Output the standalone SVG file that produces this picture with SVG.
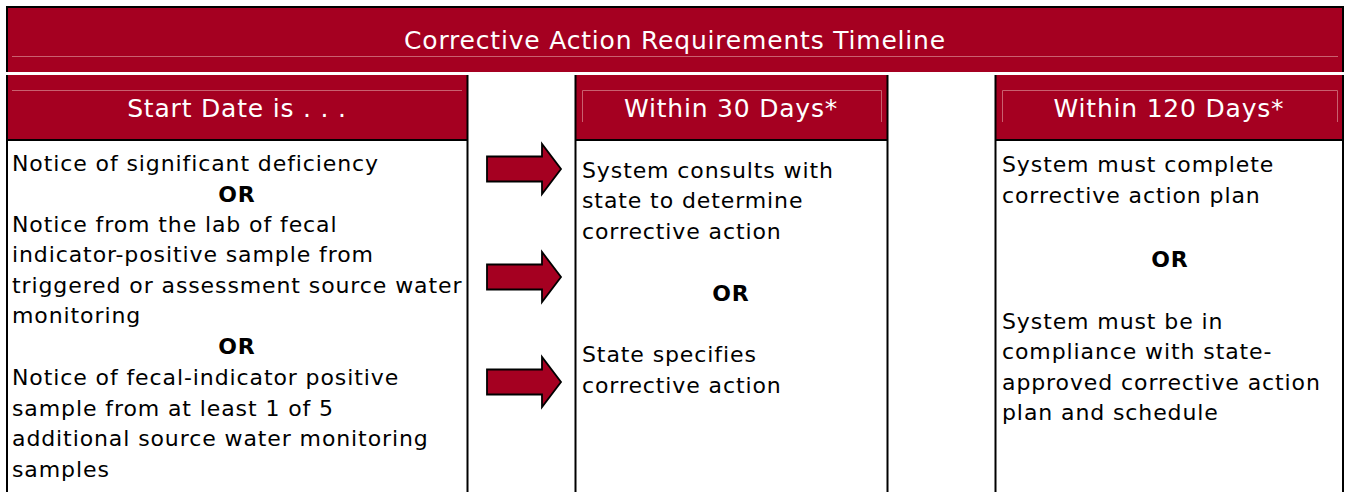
<svg xmlns="http://www.w3.org/2000/svg" xmlns:xlink="http://www.w3.org/1999/xlink" width="1345" height="492" viewBox="0 0 1345 492">
  <style>
    .hdr { fill: #a50021; }
    .bevel { stroke: #c9606f; stroke-width: 1; fill: none; }
    .border { stroke: #000; stroke-width: 2; fill: none; }
    .htxt { font-family: "DejaVu Sans", sans-serif; font-size: 25px; letter-spacing: 0.8px; fill: #ffffff; text-anchor: middle; }
    .btxt { font-family: "DejaVu Sans", sans-serif; font-size: 22px; letter-spacing: 0.9px; fill: #000; }
    .or { font-weight: bold; text-anchor: middle; }
    .arrow { fill: #a50021; stroke: #000; stroke-width: 1.8; stroke-linejoin: miter; }
  </style>
  <defs>
    <path id="arr" d="M0,-12.5 H55 V-25 L74,0 L55,25 V12.5 H0 Z"/>
  </defs>
  <rect width="1345" height="492" fill="#ffffff"/>

  <g id="title">
    <rect class="hdr" x="6" y="6" width="1338" height="66"/>
    <line class="bevel" x1="12" y1="56.5" x2="1338" y2="56.5"/>
    <line class="border" x1="6" y1="7" x2="1344" y2="7"/>
    <text class="htxt" x="675" y="49">Corrective Action Requirements Timeline</text>
  </g>

  <g id="col-start">
    <rect class="hdr" x="6" y="75" width="462" height="65"/>
    <line class="bevel" x1="12" y1="90.5" x2="462" y2="90.5"/>
    <text class="htxt" x="237" y="117">Start Date is . . .</text>
    <line class="border" x1="6" y1="140" x2="468" y2="140"/>
    <text class="btxt" x="12" y="171">Notice of significant deficiency</text>
    <text class="btxt or" x="237" y="202">OR</text>
    <text class="btxt" x="12" y="232">Notice from the lab of fecal</text>
    <text class="btxt" x="12" y="262">indicator-positive sample from</text>
    <text class="btxt" x="12" y="293">triggered or assessment source water</text>
    <text class="btxt" x="12" y="323">monitoring</text>
    <text class="btxt or" x="237" y="354">OR</text>
    <text class="btxt" x="12" y="385">Notice of fecal-indicator positive</text>
    <text class="btxt" x="12" y="416">sample from at least 1 of 5</text>
    <text class="btxt" x="12" y="446">additional source water monitoring</text>
    <text class="btxt" x="12" y="477">samples</text>
  </g>

  <g id="col-30">
    <rect class="hdr" x="576" y="75" width="311" height="65"/>
    <polyline class="bevel" points="582.5,122 582.5,90.5 881.5,90.5 881.5,122"/>
    <text class="htxt" x="731" y="117">Within 30 Days*</text>
    <line class="border" x1="575" y1="140" x2="888" y2="140"/>
    <text class="btxt" x="582" y="178">System consults with</text>
    <text class="btxt" x="582" y="208">state to determine</text>
    <text class="btxt" x="582" y="239">corrective action</text>
    <text class="btxt or" x="731" y="301">OR</text>
    <text class="btxt" x="582" y="362">State specifies</text>
    <text class="btxt" x="582" y="393">corrective action</text>
  </g>

  <g id="col-120">
    <rect class="hdr" x="996" y="75" width="347" height="65"/>
    <polyline class="bevel" points="1002.5,122 1002.5,90.5 1337.5,90.5 1337.5,122"/>
    <text class="htxt" x="1169" y="117">Within 120 Days*</text>
    <line class="border" x1="995" y1="140" x2="1344" y2="140"/>
    <text class="btxt" x="1002" y="172">System must complete</text>
    <text class="btxt" x="1002" y="203">corrective action plan</text>
    <text class="btxt or" x="1170" y="267">OR</text>
    <text class="btxt" x="1002" y="329">System must be in</text>
    <text class="btxt" x="1002" y="359">compliance with state-</text>
    <text class="btxt" x="1002" y="390">approved corrective action</text>
    <text class="btxt" x="1002" y="420">plan and schedule</text>
  </g>

  <g id="frame">
    <line class="border" x1="7" y1="6" x2="7" y2="492"/>
    <line class="border" x1="1343" y1="6" x2="1343" y2="492"/>
    <line class="border" x1="467.5" y1="75" x2="467.5" y2="492"/>
    <line class="border" x1="575.5" y1="75" x2="575.5" y2="492"/>
    <line class="border" x1="887.5" y1="75" x2="887.5" y2="492"/>
    <line class="border" x1="995.5" y1="75" x2="995.5" y2="492"/>
    <line x1="6" y1="73.5" x2="1344" y2="73.5" stroke="#ffffff" stroke-width="3"/>
  </g>

  <g id="connectors">
    <use xlink:href="#arr" class="arrow" transform="translate(487,169)"/>
    <use xlink:href="#arr" class="arrow" transform="translate(487,277)"/>
    <use xlink:href="#arr" class="arrow" transform="translate(487,382)"/>
  </g>
</svg>
